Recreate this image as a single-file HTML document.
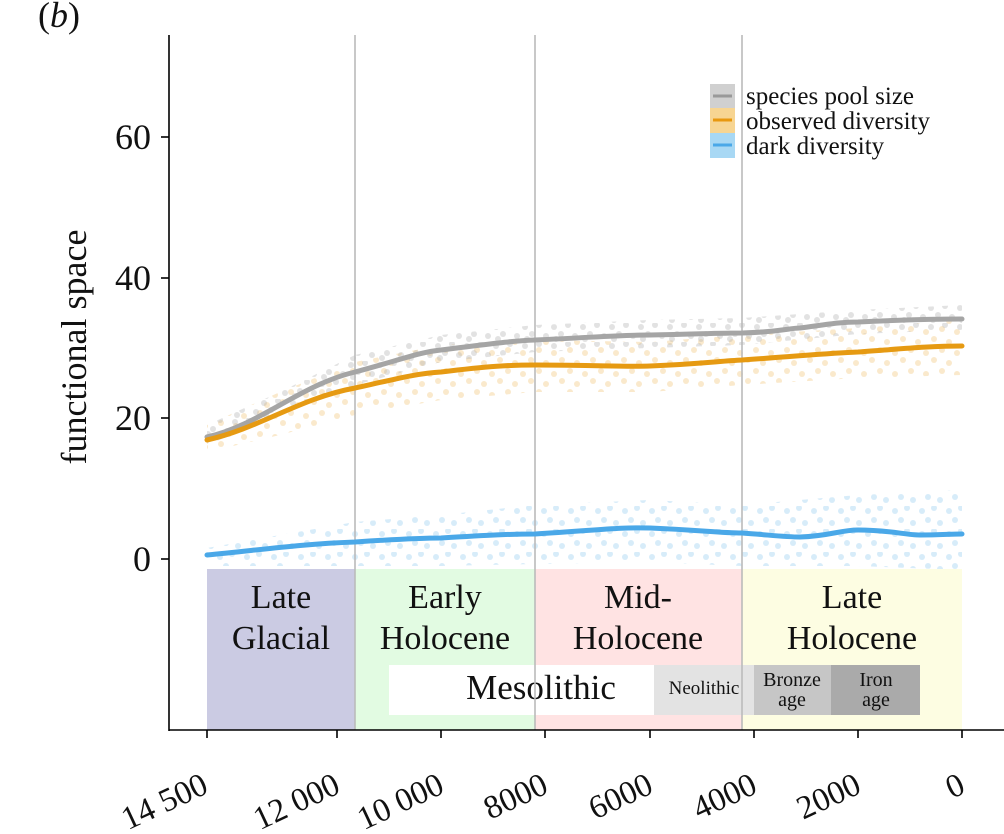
<!DOCTYPE html>
<html><head><meta charset="utf-8"><style>
body{margin:0;background:#fff;}
svg{display:block;font-family:"Liberation Serif",serif;}
</style></head><body>
<svg width="1004" height="834" viewBox="0 0 1004 834">
<defs>
<pattern id="pg" width="29" height="19" patternUnits="userSpaceOnUse">
<g fill="#aaa" fill-opacity="0.35"><circle cx="3" cy="4" r="3"/><circle cx="17" cy="2" r="3"/><circle cx="10" cy="11" r="3"/><circle cx="24" cy="13" r="3"/><circle cx="5" cy="16" r="3"/></g></pattern>
<pattern id="po" width="31" height="21" patternUnits="userSpaceOnUse">
<g fill="#f0b858" fill-opacity="0.3"><circle cx="4" cy="3" r="3"/><circle cx="19" cy="6" r="3"/><circle cx="12" cy="14" r="3"/><circle cx="27" cy="17" r="3"/></g></pattern>
<pattern id="pb" width="27" height="23" patternUnits="userSpaceOnUse">
<g fill="#7cc0ee" fill-opacity="0.3"><circle cx="4" cy="5" r="3"/><circle cx="16" cy="2" r="3"/><circle cx="10" cy="14" r="3"/><circle cx="22" cy="17" r="3"/></g></pattern>
</defs>
<polygon fill="url(#pb)" points="207,548 280,535 355,522 441,515 535,505 650,500 742,505 858,495 962,490 962,570 858,566 742,566 650,562 535,564 441,566 355,566 280,566 207,566"/>
<polygon fill="url(#po)" points="207,425 280,392 355,362 441,345 535,340 650,342 742,335 858,328 962,320 962,375 858,378 742,385 650,392 535,392 441,400 355,415 280,435 207,452"/>
<polygon fill="url(#pg)" points="207,425 280,392 355,355 441,335 535,325 650,320 742,318 858,310 962,305 962,330 858,334 742,345 650,348 535,352 441,362 355,385 280,415 207,445"/>
<rect x="207" y="569" width="148" height="161" fill="#cbcbe3"/>
<rect x="355" y="569" width="180" height="161" fill="#e2fbe2"/>
<rect x="535" y="569" width="207" height="161" fill="#ffe3e3"/>
<rect x="742" y="569" width="220" height="161" fill="#fdfde2"/>
<rect x="389" y="665" width="265" height="50" fill="#fff"/>
<rect x="654" y="665" width="100" height="50" fill="#e3e3e3"/>
<rect x="754" y="665" width="77" height="50" fill="#c6c6c6"/>
<rect x="831" y="665" width="89" height="50" fill="#aaaaaa"/>
<g font-size="34" text-anchor="middle" fill="#111">
<text x="281" y="608">Late</text><text x="281" y="649">Glacial</text>
<text x="445" y="608">Early</text><text x="445" y="649">Holocene</text>
<text x="638" y="608">Mid-</text><text x="638" y="649">Holocene</text>
<text x="852" y="608">Late</text><text x="852" y="649">Holocene</text>
<text x="541" y="699" font-size="35">Mesolithic</text>
<text x="704" y="694" font-size="19">Neolithic</text>
<text x="792" y="686" font-size="20">Bronze</text><text x="792" y="706" font-size="20">age</text>
<text x="876" y="686" font-size="20">Iron</text><text x="876" y="706" font-size="20">age</text>
</g>
<g stroke="#bbb" stroke-width="1.6">
<line x1="355" y1="35" x2="355" y2="730"/><line x1="535" y1="35" x2="535" y2="730"/><line x1="742" y1="35" x2="742" y2="730"/>
</g>
<g fill="none" stroke-width="5" stroke-linecap="round">
<path stroke="#a5a5a5" d="M207,437 C260,425 300,385 355,372 C400,360 420,352 441,350 C490,344 510,341 535,340 C600,337 620,335 650,335 C700,334 720,333 742,333 C780,332 790,328 800,328 C830,324 840,322 858,322 C900,320 930,319 962,319"/>
<path stroke="#e69a12" d="M207,440 C260,428 300,398 355,388 C400,378 420,373 441,372 C490,366 510,365 535,365 C600,365 620,367 650,366 C700,364 720,361 742,360 C800,356 830,353 858,352 C900,349 930,346 962,346"/>
<path stroke="#4aa8e8" d="M207,555 C260,550 300,544 355,542 C400,539 420,538 441,538 C490,535 510,534 535,534 C600,530 620,527 650,528 C700,530 720,533 742,533 C770,535 785,537 800,537 C830,536 840,530 858,530 C890,530 905,535 920,535 C940,535 950,534 962,534"/>
</g>
<line x1="169" y1="35" x2="169" y2="731" stroke="#000" stroke-width="1.6"/>
<line x1="169" y1="730" x2="1004" y2="730" stroke="#000" stroke-width="1.6"/>
<g stroke="#000" stroke-width="1.6">
<line x1="161" y1="137" x2="169" y2="137"/><line x1="161" y1="278" x2="169" y2="278"/><line x1="161" y1="418" x2="169" y2="418"/><line x1="161" y1="559" x2="169" y2="559"/>
<line x1="207" y1="730" x2="207" y2="738"/><line x1="337" y1="730" x2="337" y2="738"/><line x1="441" y1="730" x2="441" y2="738"/><line x1="545" y1="730" x2="545" y2="738"/><line x1="650" y1="730" x2="650" y2="738"/><line x1="754" y1="730" x2="754" y2="738"/><line x1="858" y1="730" x2="858" y2="738"/><line x1="962" y1="730" x2="962" y2="738"/>
</g>
<g font-size="36" text-anchor="end" fill="#111">
<text x="151" y="149">60</text><text x="151" y="290">40</text><text x="151" y="430">20</text><text x="151" y="571">0</text>
</g>
<g font-size="33" text-anchor="end" fill="#111">
<text transform="translate(210,792) rotate(-25)">14 500</text>
<text transform="translate(342,792) rotate(-25)">12 000</text>
<text transform="translate(446,792) rotate(-25)">10 000</text>
<text transform="translate(550,792) rotate(-25)">8000</text>
<text transform="translate(655,792) rotate(-25)">6000</text>
<text transform="translate(759,792) rotate(-25)">4000</text>
<text transform="translate(863,792) rotate(-25)">2000</text>
<text transform="translate(967,792) rotate(-25)">0</text>
</g>
<text transform="translate(86,347) rotate(-90)" font-size="36" text-anchor="middle" fill="#111">functional space</text>
<text x="38" y="27" font-size="36" fill="#111">(<tspan font-style="italic">b</tspan>)</text>
<rect x="710" y="84" width="25" height="24" fill="#d0d0d0"/>
<rect x="710" y="108" width="25" height="25" fill="#f7d592"/>
<rect x="710" y="133" width="25" height="25" fill="#a8d8f4"/>
<line x1="713" y1="96" x2="732" y2="96" stroke="#999" stroke-width="3"/>
<line x1="713" y1="120" x2="732" y2="120" stroke="#e8980f" stroke-width="3"/>
<line x1="713" y1="145" x2="732" y2="145" stroke="#4aa8e8" stroke-width="3"/>
<g font-size="25" fill="#111">
<text x="746" y="104">species pool size</text><text x="746" y="129">observed diversity</text><text x="746" y="154">dark diversity</text>
</g>
</svg>
</body></html>
